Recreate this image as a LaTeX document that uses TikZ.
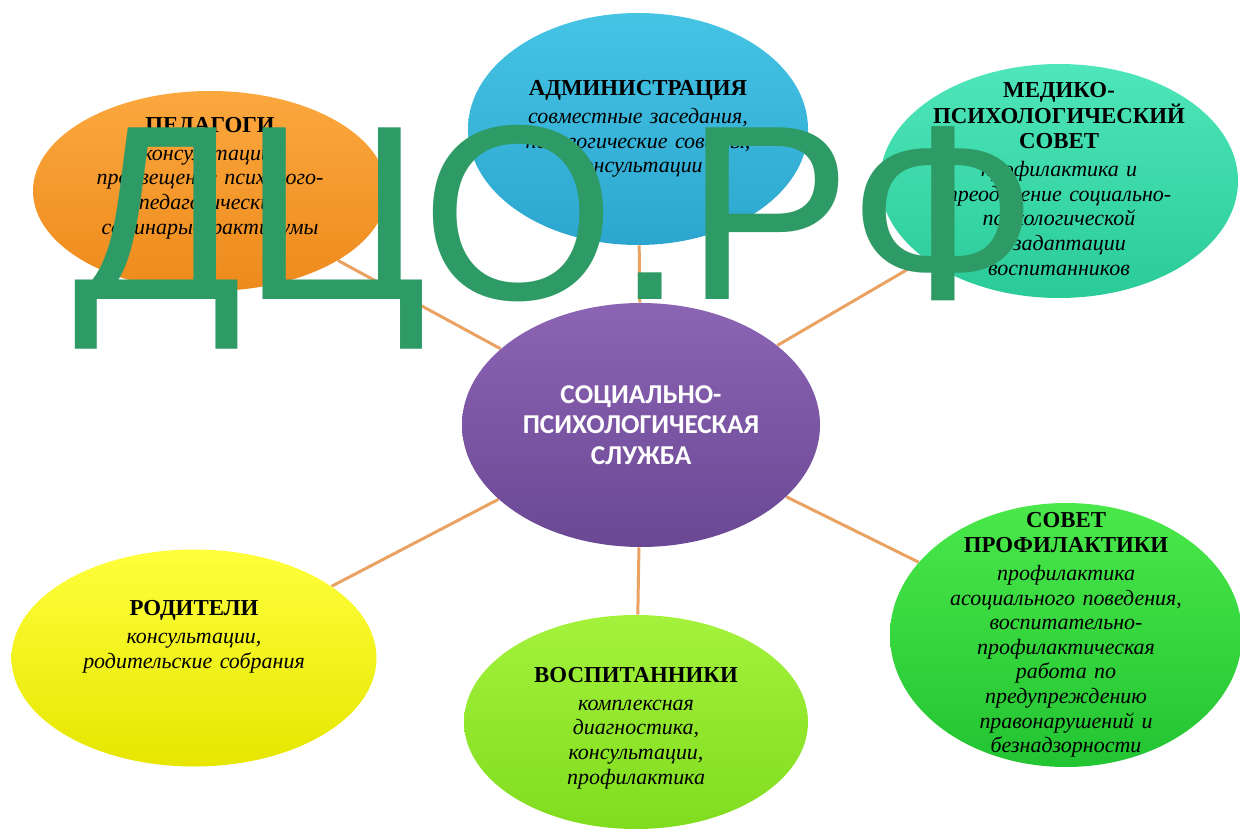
\documentclass[tikz,border=0pt]{standalone}
\usepackage{fontspec}
\setmainfont{Liberation Serif}
\newfontfamily\hdfont{Carlito}
\newfontfamily\wmfont{Liberation Sans}
\usetikzlibrary{shapes.geometric,backgrounds}

\definecolor{pedTop}{HTML}{FBA83E}
\definecolor{pedBot}{HTML}{EE8A1C}
\definecolor{admTop}{HTML}{45C4E4}
\definecolor{admBot}{HTML}{2CA6CF}
\definecolor{medTop}{HTML}{4EE6BA}
\definecolor{medBot}{HTML}{2ACB98}
\definecolor{socTop}{HTML}{8C64B4}
\definecolor{socBot}{HTML}{6A4894}
\definecolor{rodTop}{HTML}{FFFF3C}
\definecolor{rodBot}{HTML}{E6E600}
\definecolor{vosTop}{HTML}{A4F23C}
\definecolor{vosBot}{HTML}{80DC1E}
\definecolor{sovTop}{HTML}{4AE84A}
\definecolor{sovBot}{HTML}{22C432}
\definecolor{linkc}{HTML}{E9A262}
\definecolor{wmc}{HTML}{2E9A65}

\newcommand{\boxttl}[1]{{\upshape\bfseries\fontsize{13}{13.6}\selectfont #1}\\[2pt]}

\begin{document}
\begin{tikzpicture}[
  blob/.style={ellipse, inner sep=0pt},
  txt/.style={
    align=center,
    text width=6cm,
    inner sep=0pt,
    font=\fontsize{12.5}{14}\selectfont\itshape
  },
  hub/.style={align=center, text=white,
    font=\hdfont\bfseries\fontsize{15.5}{17.5}\selectfont},
  link/.style={draw=linkc, line width=1.7pt},
  wm/.style={text=wmc, inner sep=0pt,
    font=\wmfont\fontsize{142}{142}\selectfont}
]
\useasboundingbox (0,0) rectangle (24.8,16.68);

% ellipses
\node[blob, minimum width=7.08cm, minimum height=4.0cm,
  top color=pedTop, bottom color=pedBot] (ped) at (4.2,12.86) {};
\node[blob, minimum width=6.8cm, minimum height=4.64cm,
  top color=admTop, bottom color=admBot] (adm) at (12.76,14.1) {};
\node[blob, minimum width=7.16cm, minimum height=4.68cm,
  top color=medTop, bottom color=medBot] (med) at (21.18,13.06) {};
\node[blob, minimum width=7.16cm, minimum height=4.88cm,
  top color=socTop, bottom color=socBot] (soc) at (12.82,8.18) {};
\node[blob, minimum width=7.3cm, minimum height=4.34cm,
  top color=rodTop, bottom color=rodBot] (rod) at (3.88,3.52) {};
\node[blob, minimum width=6.88cm, minimum height=4.28cm,
  top color=vosTop, bottom color=vosBot] (vos) at (12.72,2.24) {};
\node[blob, minimum width=7.04cm, minimum height=5.28cm,
  top color=sovTop, bottom color=sovBot] (sov) at (21.32,3.98) {};

% texts
\node[txt, yshift=0.26cm] (pedT) at (ped) {\boxttl{ПЕДАГОГИ}
  консультации,\\ просвещение психолого-\\ педагогические\\ семинары-практикумы};
\node[txt] (admT) at (adm) {\boxttl{АДМИНИСТРАЦИЯ}
  совместные заседания,\\ педагогические советы,\\ консультации};
\node[txt, yshift=0.04cm] (medT) at (med) {\boxttl{МЕДИКО-\\ ПСИХОЛОГИЧЕСКИЙ\\ СОВЕТ}
  профилактика и\\ преодоление социально-\\ психологической\\ дезадаптации\\ воспитанников};
\node[hub] (socT) at (soc) {СОЦИАЛЬНО-\\ ПСИХОЛОГИЧЕСКАЯ\\ СЛУЖБА};
\node[txt, yshift=0.42cm] (rodT) at (rod) {\boxttl{РОДИТЕЛИ}
  консультации,\\ родительские собрания};
\node[txt, yshift=-0.12cm] (vosT) at (vos) {\boxttl{ВОСПИТАННИКИ}
  комплексная\\ диагностика,\\ консультации,\\ профилактика};
\node[txt] (sovT) at (sov) {\boxttl{СОВЕТ\\ ПРОФИЛАКТИКИ}
  профилактика\\ асоциального поведения,\\ воспитательно-\\ профилактическая\\ работа по\\ предупреждению\\ правонарушений и\\ безнадзорности};

% links behind
\begin{scope}[on background layer]
\foreach \n in {ped,adm,med,rod,vos,sov}
  \draw[link] (soc) -- (\n);
\end{scope}

% watermark
\node[wm, anchor=base west] (wmark) at (1.46,10.68) {ДЦО.РФ};
\end{tikzpicture}
\end{document}
